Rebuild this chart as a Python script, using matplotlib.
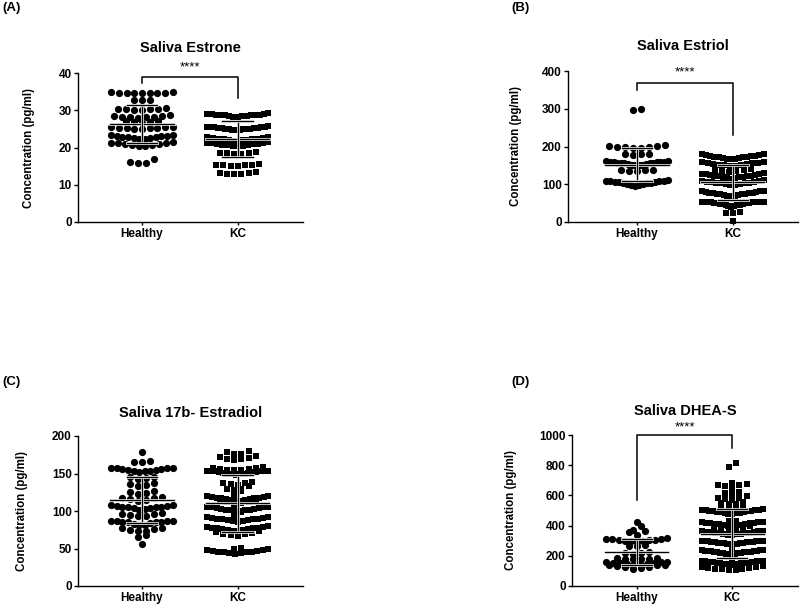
import numpy as np
import matplotlib
matplotlib.use("Agg")
import matplotlib.pyplot as plt
import matplotlib.patheffects as pe

plt.rcParams["font.family"] = ["Liberation Sans", "DejaVu Sans"]

groups = ["Healthy", "KC"]

# ---- Saliva Estrone (pg/ml)
estrone_healthy = [34.5, 34.6, 34.7, 34.7, 34.8, 34.6, 34.5, 34.7, 34.8,
                   32.7, 32.8, 32.8,
                   30.1, 30.2, 30.3, 30.3, 30.4, 30.5, 30.3,
                   28.0, 28.2, 28.3, 28.3, 28.4, 28.5, 28.6, 28.2,
                   26.7, 26.8, 26.9, 27.0, 27.0,
                   25.0, 25.1, 25.2, 25.3, 25.3, 25.4, 25.5, 25.4, 25.2,
                   22.3, 22.4, 22.5, 22.6, 22.7, 22.8, 22.9, 23.0, 23.1, 23.2, 23.3, 23.4,
                   20.4, 20.5, 20.6, 20.8, 20.9, 21.0, 21.1, 21.2, 21.3, 21.4,
                   15.9, 15.9, 16.0, 16.8]
estrone_kc = [28.2, 28.3, 28.4, 28.5, 28.5, 28.6, 28.6, 28.7, 28.7, 28.8, 28.8, 28.9, 29.0, 29.1, 29.2,
              24.6, 24.7, 24.8, 24.9, 25.0, 25.0, 25.1, 25.1, 25.2, 25.2, 25.3, 25.3, 25.4, 25.4,
              25.5, 25.5, 25.6, 25.7,
              21.8, 21.9, 22.0, 22.1, 22.2, 22.3, 22.3, 22.4, 22.5, 22.6, 22.7, 22.8,
              20.3, 20.4, 20.5, 20.6, 20.7, 20.8, 20.9, 21.0, 21.0, 21.1, 21.2, 21.3, 21.4,
              18.2, 18.3, 18.4, 18.5, 18.6, 18.7,
              15.0, 15.1, 15.2, 15.3, 15.3, 15.4, 15.5,
              12.8, 12.9, 13.0, 13.1, 13.2, 13.3]

# ---- Saliva Estriol (pg/ml)
estriol_healthy = [297, 299,
                   196, 197, 198, 199, 200, 201, 202, 203,
                   178, 179, 180, 181,
                   150, 151, 152, 152, 153, 154, 155, 155, 156, 156, 157, 158, 158, 159, 160, 160, 161, 162,
                   134, 136, 137, 138, 139,
                   96, 98, 99, 100, 101, 102, 103, 104, 105, 106, 107, 108, 108, 109, 109, 110]
estriol_kc = [166, 167, 168, 169, 170, 171, 172, 172, 173, 174, 175, 176, 177, 178, 179, 180,
              148, 149, 150, 151, 152, 153, 154, 155, 156, 157, 158, 159,
              132, 134, 136, 138, 139, 140,
              115, 116, 117, 118, 119, 120, 121, 122, 122, 123, 124, 125, 126, 127, 128, 129,
              98, 99, 100, 101, 102, 103, 104, 104, 105, 106, 107, 108, 109, 110,
              68, 69, 70, 71, 72, 73, 74, 75, 75, 76, 76, 77, 78, 79, 80, 81, 82, 82,
              40, 42, 43, 44, 45, 46, 47, 48, 49, 50, 50, 51, 51, 52, 52, 53, 53, 53, 54, 54, 54, 54,
              23, 24, 26,
              3]

# ---- Saliva 17b-Estradiol (pg/ml)
estradiol_healthy = [179,
                     165, 166, 167,
                     152, 153, 154, 154, 155, 155, 156, 156, 157, 157, 158, 158,
                     143, 144, 145, 146,
                     133, 135, 136, 137,
                     123, 124, 125, 127,
                     113, 115, 116, 117, 118, 119,
                     102, 103, 104, 104, 105, 105, 106, 106, 107, 107, 108, 108,
                     93, 94, 95, 96, 96, 97,
                     81, 82, 83, 84, 85, 85, 86, 86, 87, 87, 87, 87,
                     73, 74, 75, 76, 77, 78,
                     65, 68,
                     56]
estradiol_kc = [168, 169, 170, 171, 172, 173, 176, 176, 179, 180,
                148, 149, 149, 150, 150, 151, 151, 152, 152, 152, 153, 153, 153, 154, 154, 154,
                155, 155, 155, 156, 156, 157, 158, 159,
                134, 135, 136, 137, 138, 139,
                127, 128, 129, 130,
                111, 112, 112, 113, 113, 114, 114, 115, 115, 116, 116, 117, 117, 118, 118, 119,
                119, 120, 120, 121,
                99, 100, 100, 101, 101, 102, 102, 103, 103, 104, 104, 105, 105, 106, 106, 107,
                86, 87, 87, 88, 88, 89, 89, 90, 90, 91, 91, 92, 92, 93,
                73, 74, 74, 75, 75, 76, 76, 77, 77, 78, 78, 79, 79, 80,
                67, 68, 69, 70, 71, 72,
                43, 44, 44, 45, 45, 46, 46, 47, 47, 48, 48, 49, 50, 51]

# ---- Saliva DHEA-S (pg/ml)
dhea_healthy = [426, 397, 360, 365, 372, 338,
                292, 295, 298, 300, 302, 304, 306, 308, 310, 312, 315,
                262, 268, 272,
                212, 216, 220, 224,
                176, 178, 180, 182, 184, 186,
                112, 118, 124, 128, 132, 136, 138, 140, 142, 144, 146, 148, 150, 152, 154, 156, 158, 160]
dhea_kc = [812, 790,
           668, 672, 676, 680, 650, 660, 612, 618, 625, 598,
           572, 576, 580, 584, 540, 545, 550, 556, 520, 525, 530,
           478, 480, 482, 484, 486, 488, 490, 492, 494, 496, 498, 500, 502, 504, 505, 506, 507, 508,
           395, 398, 400, 402, 404, 406, 408, 410, 412, 414, 416, 418, 420, 422, 424, 426, 428, 430,
           338, 340, 342, 344, 346, 348, 350, 352, 354, 356, 358, 360, 362, 364, 366, 368, 370, 372,
           374, 376,
           275, 276, 278, 280, 282, 283, 285, 286, 288, 290, 291, 292, 293, 294, 295, 296, 297, 298,
           299, 300,
           210, 212, 214, 215, 217, 218, 220, 221, 222, 224, 225, 226, 228, 229, 230, 232, 233, 234,
           236, 237, 238, 240,
           140, 142, 144, 145, 147, 148, 150, 151, 152, 154, 155, 156, 158, 159, 160, 162, 163, 164,
           166, 167, 168, 170,
           105, 108, 110, 112, 115, 118, 120, 123, 126, 130]

panels = [
    dict(tag="(A)", title="Saliva Estrone", healthy=estrone_healthy, kc=estrone_kc,
         ymax=40, yticks=[0, 10, 20, 30, 40], bin=1.2,
         bracket=(38.9, 37.3, 33.3), stars=41.6),
    dict(tag="(B)", title="Saliva Estriol", healthy=estriol_healthy, kc=estriol_kc,
         ymax=400, yticks=[0, 100, 200, 300, 400], bin=15,
         bracket=(368, 350, 230), stars=397),
    dict(tag="(C)", title="Saliva 17b- Estradiol", healthy=estradiol_healthy, kc=estradiol_kc,
         ymax=200, yticks=[0, 50, 100, 150, 200], bin=7,
         bracket=None, stars=None),
    dict(tag="(D)", title="Saliva DHEA-S", healthy=dhea_healthy, kc=dhea_kc,
         ymax=1000, yticks=[0, 200, 400, 600, 800, 1000], bin=30,
         bracket=(1000, 570, 914), stars=1053),
]

# axes boxes in pixels: left, right, bottom, top (figure is 800 x 605)
boxes = [(78, 303, 222, 73), (568, 798, 222, 71), (78, 303, 586, 436), (572, 798, 586, 435)]
xlims = [(-0.667, 1.68), (-0.72, 1.68), (-0.667, 1.68), (-0.68, 1.69)]
ylabel_x = [-0.191, -0.20, -0.222, -0.243]
title_y = [1.168, 1.165, 1.153, 1.159]
tag_pos = [(2, 8), (511, 8), (2, 382), (511, 382)]

W, H = 800, 605


def row_layout(values, bin_size, step, half_width):
    """Prism-like scatter: stack close values in rows, lowest in the middle."""
    v = np.sort(np.asarray(values, dtype=float))
    xs = np.zeros_like(v)
    i = 0
    while i < len(v):
        j = i
        while j < len(v) and v[j] - v[i] < bin_size:
            j += 1
        n = j - i
        s = step if n <= 1 else min(step, 2 * half_width / (n - 1))
        slots = (np.arange(n) - (n - 1) / 2) * s
        order = np.argsort(np.abs(slots) + 1e-9 * np.arange(n), kind="stable")
        xs[i:j] = slots[order]
        i = j
    return xs, v


fig = plt.figure(figsize=(8, 6.05), dpi=100)

for k, p in enumerate(panels):
    left, right, bottom, top = boxes[k]
    ax = fig.add_axes([left / W, (H - bottom) / H, (right - left) / W, (bottom - top) / H])

    for gi, (data, marker, ms, step) in enumerate(
        [(p["healthy"], "o", 5.2, 0.083), (p["kc"], "s", 5.0, 0.075)]
    ):
        dx, yv = row_layout(data, p["bin"], step, 0.32)
        ax.plot(gi + dx, yv, linestyle="none", marker=marker, markersize=ms,
                color="black", markeredgewidth=0, clip_on=False, zorder=3)

        mean = np.mean(data)
        sd = np.std(data, ddof=1)
        halo = [pe.withStroke(linewidth=2.0, foreground="white")]
        for xx, yy in [
            ((gi - 0.33, gi + 0.33), (mean, mean)),
            ((gi, gi), (mean - sd, mean + sd)),
            ((gi - 0.16, gi + 0.16), (mean + sd, mean + sd)),
            ((gi - 0.16, gi + 0.16), (mean - sd, mean - sd)),
        ]:
            ax.plot(xx, yy, color="black", linewidth=1.0, zorder=4, path_effects=halo)

    if p["bracket"] is not None:
        ytop, yleft, yright = p["bracket"]
        ax.plot([0, 0, 1, 1], [yleft, ytop, ytop, yright], color="black",
                linewidth=1.1, clip_on=False, zorder=5)
        ax.text(0.5, p["stars"], "****", ha="center", va="center", fontsize=9.5,
                clip_on=False)

    ax.set_xlim(*xlims[k])
    ax.set_ylim(0, p["ymax"])
    ax.set_yticks(p["yticks"])
    ax.set_xticks([0, 1])
    ax.set_xticklabels(groups)
    for lab in ax.get_xticklabels() + ax.get_yticklabels():
        lab.set_fontweight("bold")
        lab.set_fontsize(8.5)
    ax.tick_params(axis="y", length=3, width=1.0, pad=1.5)
    ax.tick_params(axis="x", length=2.5, width=1.0, pad=2)

    for side in ["top", "right"]:
        ax.spines[side].set_visible(False)
    for side in ["left", "bottom"]:
        ax.spines[side].set_linewidth(1.0)
        ax.spines[side].set_color("black")

    ax.set_ylabel("Concentration (pg/ml)", fontsize=8.3, fontweight="bold")
    ax.yaxis.set_label_coords(ylabel_x[k], 0.5)
    ax.text(0.5, title_y[k], p["title"], transform=ax.transAxes, ha="center",
            va="center", fontsize=10.5, fontweight="bold")

    tx, ty = tag_pos[k]
    fig.text(tx / W, 1 - ty / H, p["tag"], ha="left", va="center",
             fontsize=9.5, fontweight="bold")

fig.savefig("out.png", dpi=100)
